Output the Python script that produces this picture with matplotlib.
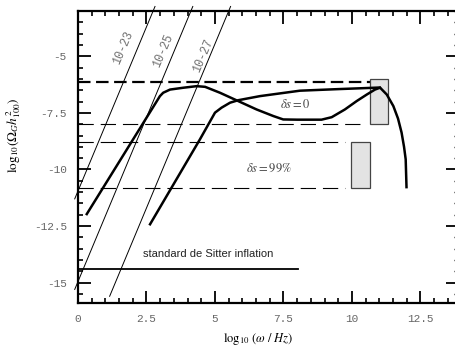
import numpy as np
import matplotlib
matplotlib.use("Agg")
import matplotlib.pyplot as plt
from matplotlib.patches import Rectangle
from matplotlib.ticker import FixedLocator, FixedFormatter, MultipleLocator

plt.rcParams['axes.unicode_minus'] = False
plt.rcParams['mathtext.fontset'] = 'stix'
plt.rcParams['lines.scale_dashes'] = False

#---------------- data ----------------
# dip curve (delta s = 0)
dip_x = [0.32, 2.99, 3.11, 3.36, 3.84, 4.33, 4.64, 5.18, 5.85, 6.52, 7.13, 7.49,
         8.0, 8.89, 9.26, 9.74, 10.17, 10.54, 10.84, 11.02]
dip_y = [-11.97, -6.76, -6.61, -6.47, -6.39, -6.32, -6.35, -6.61, -6.98, -7.35, -7.64, -7.79,
         -7.8, -7.8, -7.69, -7.35, -6.98, -6.69, -6.47, -6.39]
# second curve, with the high frequency cut-off
cut_x = [2.63, 4.45, 5.0, 5.24, 5.55, 5.85, 6.64, 8.1, 9.5, 10.6, 11.02,
         11.27, 11.51, 11.68, 11.81, 11.9, 11.96, 11.99]
cut_y = [-12.42, -8.67, -7.49, -7.27, -7.05, -6.94, -6.76, -6.52, -6.45, -6.4, -6.38,
         -6.69, -7.2, -7.75, -8.37, -9.0, -9.55, -10.78]

# strain lines log10(Omega) = y0 + slope*x
strain_labels = ['10-23', '10-25', '10-27']
strain_y0 = [-10.95, -14.95, -18.95]
strain_slope = 2.9
strain_xstart = [-0.12, -0.12, 1.155]
strain_label_x = [1.65, 3.1, 4.56]
strain_label_y = [-4.6, -4.75, -4.98]

# horizontal bounds
hline_y = [-6.15, -8.0, -8.8, -10.8]
hline_xend = [10.65, 10.3, 9.75, 9.75]
hline_thick = [True, False, False, False]

# detector boxes
box_x0 = [10.65, 9.98]
box_x1 = [11.3, 10.65]
box_y0 = [-8.0, -10.8]
box_y1 = [-6.0, -8.8]

desitter_y = -14.4
desitter_xend = 8.03

xticks = [0, 2.5, 5, 7.5, 10, 12.5]
xticklabels = ['0', '2.5', '5', '7.5', '10', '12.5']
yticks = [-5, -7.5, -10, -12.5, -15]
yticklabels = ['-5', '-7.5', '-10', '-12.5', '-15']
#-----------------------------------------------------------

fig = plt.figure(figsize=(4.56, 3.49), dpi=100)
ax = fig.add_axes([78/456, 1-302.6/349, 377/456, 291.6/349])
ax.set_xlim(0, 13.76)
ax.set_ylim(-15.88, -3.0)

# strain lines
for lab, y0, xs, lx, ly in zip(strain_labels, strain_y0, strain_xstart, strain_label_x, strain_label_y):
    xe = (-2.8 - y0) / strain_slope
    ax.plot([xs, xe], [y0 + strain_slope*xs, -2.8], color='black', lw=0.7, clip_on=False)
    ax.text(lx, ly, lab, rotation=67, ha='center', va='center', fontsize=8.5,
            family='Liberation Mono', color='#707070')

# dashed bounds
for y, xe, thick in zip(hline_y, hline_xend, hline_thick):
    if thick:
        ax.plot([0, xe], [y, y], color='black', lw=1.6, dashes=(9, 4))
    else:
        ax.plot([0, xe], [y, y], color='black', lw=0.8, dashes=(11, 5))

# boxes
for x0, x1, y0, y1 in zip(box_x0, box_x1, box_y0, box_y1):
    ax.add_patch(Rectangle((x0, y0), x1-x0, y1-y0, facecolor='#e3e3e3',
                           edgecolor='#444444', lw=0.9, zorder=2))

ax.plot(dip_x, dip_y, color='black', lw=1.8, zorder=3)
ax.plot(cut_x, cut_y, color='black', lw=1.8, zorder=3)

ax.plot([0, desitter_xend], [desitter_y, desitter_y], color='black', lw=1.3)
ax.text(2.37, -13.88, 'standard de Sitter inflation', fontsize=8,
        family='Liberation Sans', color='#222222')

ax.text(7.95, -7.13, r'$\delta s = 0$', ha='center', va='center', fontsize=9, color='#444444')
ax.text(6.95, -9.93, r'$\delta s = 99\%$', ha='center', va='center', fontsize=9, color='#444444')

# axes / ticks
for s in ['left', 'bottom', 'top']:
    ax.spines[s].set_linewidth(1.6)
ax.spines['right'].set_visible(False)

ax.xaxis.set_major_locator(FixedLocator(xticks))
ax.xaxis.set_major_formatter(FixedFormatter(xticklabels))
ax.xaxis.set_minor_locator(MultipleLocator(0.5))
ax.yaxis.set_major_locator(FixedLocator(yticks))
ax.yaxis.set_major_formatter(FixedFormatter(yticklabels))
ax.yaxis.set_minor_locator(MultipleLocator(0.5))
ax.tick_params(which='both', direction='in', top=True, right=False,
               labelsize=8, labelcolor='#666666', pad=8)
ax.tick_params(which='major', length=9, width=1.3)
ax.tick_params(which='minor', length=3.6, width=1.2)
for t in ax.get_xticklabels() + ax.get_yticklabels():
    t.set_fontfamily('Liberation Mono')

# right side ticks without spine
ax2 = ax.twinx()
ax2.set_ylim(ax.get_ylim())
ax2.yaxis.set_major_locator(FixedLocator(yticks))
ax2.yaxis.set_minor_locator(MultipleLocator(0.5))
ax2.tick_params(which='both', direction='in', labelright=False)
ax2.tick_params(which='major', length=6.5, width=1.3)
ax2.tick_params(which='minor', length=1.0, width=1.0)
for s in ax2.spines.values():
    s.set_visible(False)

ax.set_xlabel(r'$\mathrm{log}_{10}\ (\omega\ /\ Hz)$', fontsize=9)
ax.xaxis.set_label_coords(0.477, -0.098)
ax.set_ylabel(r'$\mathrm{log}_{10}(\Omega_G h^2_{100})$', fontsize=9.5)
ax.yaxis.set_label_coords(-0.146, 0.575)

fig.savefig('out.png', dpi=100)
